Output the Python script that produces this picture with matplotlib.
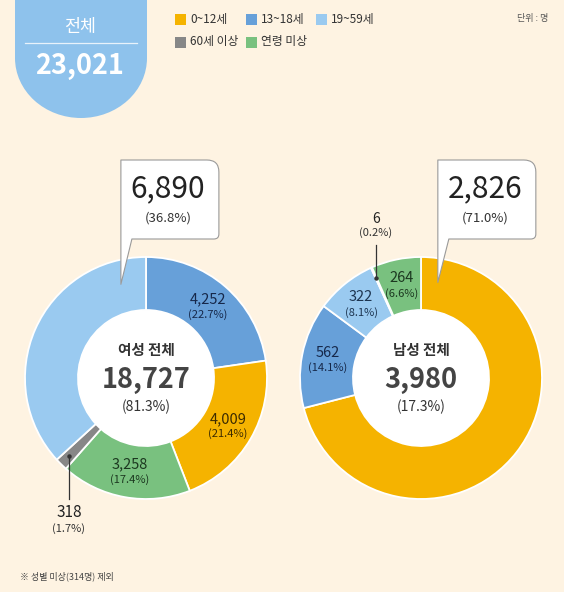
import numpy as np
import matplotlib
matplotlib.use("Agg")
import matplotlib.pyplot as plt
from matplotlib.patches import Rectangle, Ellipse, Circle, PathPatch
from matplotlib.path import Path

plt.rcParams['font.family'] = ['Noto Sans CJK KR', 'DejaVu Sans']

# ---------------- data ----------------
categories = ['0~12세', '13~18세', '19~59세', '60세 이상', '연령 미상']
cat_colors = ['#F5B300', '#67A0D9', '#9ACAF0', '#878787', '#79C17F']

total_label = '전체'
total_value = 23021

female_title = '여성 전체'
female_total = 18727
female_share = 81.3
female_order = ['13~18세', '0~12세', '연령 미상', '60세 이상', '19~59세']
female_values = [4252, 4009, 3258, 318, 6890]
female_pct = [22.7, 21.4, 17.4, 1.7, 36.8]

male_title = '남성 전체'
male_total = 3980
male_share = 17.3
male_order = ['0~12세', '13~18세', '19~59세', '60세 이상', '연령 미상']
male_values = [2826, 562, 322, 6, 264]
male_pct = [71.0, 14.1, 8.1, 0.2, 6.6]

unit_text = '단위 : 명'
footnote = '※ 성별 미상(314명) 제외'

# ---------------- figure ----------------
W, H = 572, 594
fig = plt.figure(figsize=(W / 100, H / 100), dpi=100, facecolor='white')
ax = fig.add_axes([0, 0, 1, 1])


def Y(y):
    return H - y


BG = '#FEF3E2'
ax.add_patch(Rectangle((0, Y(592)), 564, 592, facecolor=BG, edgecolor='none', zorder=0))

# badge
BADGE = '#8EC2EC'
ax.add_patch(Rectangle((15, Y(58)), 132, 58, facecolor=BADGE, edgecolor='none', zorder=1))
ax.add_patch(Ellipse((81, Y(58)), 132, 120, facecolor=BADGE, edgecolor='none', zorder=1))
ax.text(80, Y(27), total_label, color='white', fontsize=12.5, ha='center', va='center', zorder=3)
ax.plot([25, 137], [Y(43), Y(43)], color='white', lw=0.9, alpha=0.8, zorder=3)
ax.text(80, Y(66), f'{total_value:,}', color='white', fontsize=19.5, fontweight='bold',
        ha='center', va='center', zorder=3)

# legend
leg_x = [175, 246, 316]
leg_y = [19, 42]
for i, (cat, col) in enumerate(zip(categories, cat_colors)):
    r, c = divmod(i, 3)
    x, y = leg_x[c], leg_y[r]
    ax.add_patch(Rectangle((x, Y(y + 5.5)), 11, 11, facecolor=col, edgecolor='none', zorder=2))
    ax.text(x + 15, Y(y), cat, fontsize=8.5, color='#333333', ha='left', va='center', zorder=3)
ax.text(548, Y(19), unit_text, fontsize=6.5, color='#555555', ha='right', va='center', zorder=3)

ax.text(20, Y(576), footnote, fontsize=6.5, color='#444444', ha='left', va='center', zorder=3)

color_of = dict(zip(categories, cat_colors))
text_tint = {'0~12세': '#3d2c00', '13~18세': '#16284a', '19~59세': '#1d3550',
             '60세 이상': '#222222', '연령 미상': '#1c3820'}


def callout(tipx, tipy, x1, y0, y1, tail_w=11, r1=12, r2=5):
    x0 = tipx
    verts = [(x0, y0), (x1 - r1, y0), (x1, y0), (x1, y0 + r1), (x1, y1 - r2), (x1, y1),
             (x1 - r2, y1), (x0 + tail_w, y1), (tipx, tipy), (x0, y1), (x0, y0)]
    codes = [Path.MOVETO, Path.LINETO, Path.CURVE3, Path.CURVE3, Path.LINETO, Path.CURVE3,
             Path.CURVE3, Path.LINETO, Path.LINETO, Path.LINETO, Path.CLOSEPOLY]
    verts = [(vx, Y(vy)) for vx, vy in verts]
    ax.add_patch(PathPatch(Path(verts, codes), facecolor='white', edgecolor='#9a9a9a',
                           lw=0.8, zorder=5, joinstyle='round'))


def donut(cx, cy, order, values, pcts, title, tot, share, callout_idx, tip_angle,
          leader_idx, leader_dir, leader_len):
    R, r_in = 121, 68
    wedges, _ = ax.pie(values, colors=[color_of[c] for c in order], startangle=90,
                       counterclock=False, center=(cx, Y(cy)), radius=R, frame=True,
                       wedgeprops=dict(width=R - r_in, edgecolor='white', linewidth=1.3))
    for w in wedges:
        w.set_zorder(2)
    ax.add_patch(Circle((cx, Y(cy)), r_in, facecolor='white', edgecolor='none', zorder=3))
    ax.text(cx, Y(cy - 28), title, fontsize=10.5, fontweight='bold', color='#333333',
            ha='center', va='center', zorder=6)
    ax.text(cx, Y(cy + 2), f'{tot:,}', fontsize=19.5, fontweight='bold', color='#444444',
            ha='center', va='center', zorder=6)
    ax.text(cx, Y(cy + 29), f'({share}%)', fontsize=10, color='#333333',
            ha='center', va='center', zorder=6)
    for i, (w, cat, v, p) in enumerate(zip(wedges, order, values, pcts)):
        mid = np.deg2rad((w.theta1 + w.theta2) / 2)
        if i == callout_idx:
            a = np.deg2rad(tip_angle)
            tx = cx + 97 * np.cos(a)
            ty = cy - 97 * np.sin(a)
            callout(tx, ty, tx + 98, 160, 239)
            bx = tx + 47
            ax.text(bx, Y(189), f'{v:,}', fontsize=21.5, fontweight='light', color='#222222',
                    ha='center', va='center', zorder=6)
            ax.text(bx, Y(218), f'({p}%)', fontsize=9.5, color='#333333', ha='center',
                    va='center', zorder=6)
        elif i == leader_idx:
            px = cx + 110 * np.cos(mid)
            py = cy - 110 * np.sin(mid)
            ey = py + leader_dir * leader_len
            ax.plot([px, px], [Y(py), Y(ey)], color='#333333', lw=0.9, zorder=6)
            ax.plot([px], [Y(py)], marker='o', ms=2.2, color='#333333', zorder=6)
            if leader_dir > 0:
                ax.text(px, Y(ey + 13), f'{v:,}', fontsize=11, color='#222222',
                        ha='center', va='center', zorder=6)
                ax.text(px, Y(ey + 29), f'({p}%)', fontsize=8, color='#333333',
                        ha='center', va='center', zorder=6)
            else:
                ax.text(px, Y(ey - 26), f'{v:,}', fontsize=10, color='#222222',
                        ha='center', va='center', zorder=6)
                ax.text(px, Y(ey - 12), f'({p}%)', fontsize=8, color='#333333',
                        ha='center', va='center', zorder=6)
        else:
            lx = cx + 95 * np.cos(mid)
            ly = cy - 95 * np.sin(mid)
            ax.text(lx, Y(ly - 7), f'{v:,}', fontsize=10.5, color=text_tint[cat],
                    ha='center', va='center', zorder=6)
            ax.text(lx, Y(ly + 8), f'({p}%)', fontsize=8, color=text_tint[cat],
                    ha='center', va='center', zorder=6)


donut(146, 378, female_order, female_values, female_pct, female_title, female_total,
      female_share, callout_idx=4, tip_angle=105, leader_idx=3, leader_dir=1, leader_len=43)
donut(421, 378, male_order, male_values, male_pct, male_title, male_total,
      male_share, callout_idx=0, tip_angle=80, leader_idx=3, leader_dir=-1, leader_len=33)

ax.set_xlim(0, W)
ax.set_ylim(0, H)
ax.set_aspect('auto')
ax.axis('off')

fig.savefig('out.png', dpi=100, facecolor='white')
